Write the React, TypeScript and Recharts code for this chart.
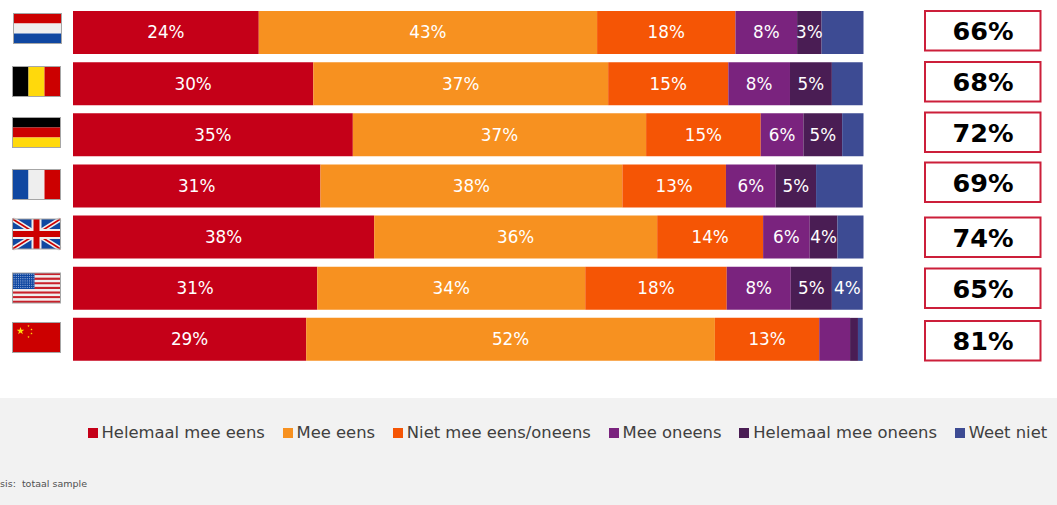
import React from 'react';
import { BarChart, Bar, XAxis, YAxis, Legend, LabelList } from 'recharts';

const countries = ['Nederland', 'België', 'Duitsland', 'Frankrijk', 'Verenigd Koninkrijk', 'Verenigde Staten', 'China'];
const flagCodes = ['nl', 'be', 'de', 'fr', 'gb', 'us', 'cn'];
const totals = ['66%', '68%', '72%', '69%', '74%', '65%', '81%'];

const helemaalMeeEens = [23.5, 30.4, 35.4, 31.3, 38.1, 30.9, 29.5];
const meeEens = [42.8, 37.3, 37.1, 38.2, 35.8, 33.9, 51.7];
const nietMeeEens = [17.5, 15.2, 14.5, 13.1, 13.4, 17.9, 13.2];
const meeOneens = [7.8, 7.8, 5.4, 6.3, 5.9, 8.1, 3.9];
const helemaalMeeOneens = [3.1, 5.3, 4.9, 5.1, 3.5, 5.2, 1.0];
const weetNiet = [5.3, 3.9, 2.7, 5.9, 3.3, 3.9, 0.6];

const labelsA = [24, 30, 35, 31, 38, 31, 29];
const labelsB = [43, 37, 37, 38, 36, 34, 52];
const labelsC = [18, 15, 15, 13, 14, 18, 13];
const labelsD = [8, 8, 6, 6, 6, 8, null];
const labelsE = [3, 5, 5, 5, 4, 5, null];
const labelsF = [null, null, null, null, null, 4, null];

const seriesNames = ['Helemaal mee eens', 'Mee eens', 'Niet mee eens/oneens', 'Mee oneens', 'Helemaal mee oneens', 'Weet niet'];
const seriesColors = ['#C50018', '#F79120', '#F55505', '#7A237E', '#4A1D54', '#3D4B93'];
const seriesValues = [helemaalMeeEens, meeEens, nietMeeEens, meeOneens, helemaalMeeOneens, weetNiet];
const seriesLabels = [labelsA, labelsB, labelsC, labelsD, labelsE, labelsF];

const rows = countries.map((country, i) => {
  const row: any = { country };
  seriesValues.forEach((vals, s) => {
    row['s' + s] = vals[i];
    row['l' + s] = seriesLabels[s][i];
  });
  return row;
});

const FONT = '"DejaVu Sans", Verdana, sans-serif';
const flagTops = [13.5, 66.5, 117.5, 169.5, 219, 273, 322.5];
const flagLefts = [13.5, 12.5, 12.5, 12.5, 12.5, 12.5, 12.5];
const boxTops = [11, 62, 112.5, 162.5, 217.5, 268.5, 321];

const RED = '#CC0000';
const BLUE = '#0F47A1';
const WHITE = '#EEEEEE';

function star(cx: number, cy: number, r: number) {
  const pts: string[] = [];
  for (let i = 0; i < 10; i++) {
    const rad = i % 2 === 0 ? r : r * 0.4;
    const a = -Math.PI / 2 + (i * Math.PI) / 5;
    pts.push(`${cx + rad * Math.cos(a)},${cy + rad * Math.sin(a)}`);
  }
  return pts.join(' ');
}

function FlagBody({ code }: { code: string }) {
  const W = 48;
  const H = 30;
  if (code === 'nl')
    return (<g><rect width={W} height={10} fill={RED} /><rect y={10} width={W} height={10} fill={WHITE} /><rect y={20} width={W} height={10} fill={BLUE} /></g>);
  if (code === 'be')
    return (<g><rect width={16} height={H} fill="#000" /><rect x={16} width={16} height={H} fill="#FFD90C" /><rect x={32} width={16} height={H} fill={RED} /></g>);
  if (code === 'de')
    return (<g><rect width={W} height={10} fill="#000" /><rect y={10} width={W} height={10} fill={RED} /><rect y={20} width={W} height={10} fill="#FFD90C" /></g>);
  if (code === 'fr')
    return (<g><rect width={16} height={H} fill={BLUE} /><rect x={16} width={16} height={H} fill={WHITE} /><rect x={32} width={16} height={H} fill={RED} /></g>);
  if (code === 'gb')
    return (
      <g>
        <rect width={W} height={H} fill={BLUE} />
        <path d={`M0 0L${W} ${H}M${W} 0L0 ${H}`} stroke={WHITE} strokeWidth={5} />
        <path d={`M0 0L${W} ${H}M${W} 0L0 ${H}`} stroke={RED} strokeWidth={1.5} />
        <rect x={19} width={10} height={H} fill={WHITE} />
        <rect y={10} width={W} height={10} fill={WHITE} />
        <rect x={21} width={6} height={H} fill={RED} />
        <rect y={12} width={W} height={6} fill={RED} />
      </g>
    );
  if (code === 'us') {
    const stripes = Array.from({ length: 13 }, (_, i) => i);
    const dots: React.ReactNode[] = [];
    for (let r = 0; r < 7; r++)
      for (let c = 0; c < 10; c++)
        dots.push(<circle key={`${r}-${c}`} cx={1.6 + c * 2.2} cy={1.3 + r * 2.2} r={0.6} fill="#9DB4DC" />);
    return (
      <g>
        {stripes.map((i) => (
          <rect key={i} y={(i * H) / 13} width={W} height={H / 13} fill={i % 2 === 0 ? '#C8202A' : WHITE} />
        ))}
        <rect width={22} height={16} fill={BLUE} />
        {dots}
      </g>
    );
  }
  return (
    <g>
      <rect width={W} height={H} fill={RED} />
      <polygon points={star(8, 8.5, 4)} fill="#FFD90C" />
      <polygon points={star(16, 3.5, 1.2)} fill="#FFD90C" />
      <polygon points={star(19, 7, 1.2)} fill="#FFD90C" />
      <polygon points={star(19, 11, 1.2)} fill="#FFD90C" />
      <polygon points={star(16, 14.5, 1.2)} fill="#FFD90C" />
    </g>
  );
}

function RowDecor(props: any) {
  const i = props.index ?? 0;
  return (
    <g>
      <g transform={`translate(${flagLefts[i]},${flagTops[i]})`}>
        <FlagBody code={flagCodes[i]} />
        <rect x={0} y={0} width={48} height={30} fill="none" stroke="#A6A6A6" strokeWidth={1} />
      </g>
      <rect x={925} y={boxTops[i]} width={115.5} height={39.5} fill="#FFFFFF" stroke="#CC1F3A" strokeWidth={2} />
      <text
        x={983}
        y={boxTops[i] + 29}
        textAnchor="middle"
        fontFamily={FONT}
        fontWeight="bold"
        fontSize={25.5}
        fill="#000000"
      >
        {totals[i]}
      </text>
    </g>
  );
}

function LegendBlock({ payload }: any) {
  return (
    <div style={{ position: 'relative', width: 1057, height: 107, background: '#F2F2F2', overflow: 'hidden', fontFamily: FONT }}>
      <div style={{ position: 'absolute', left: 87.5, top: 25, display: 'flex', whiteSpace: 'nowrap', color: '#404040', fontSize: 16.4 }}>
        {(payload || []).map((p: any) => (
          <div key={p.value} style={{ display: 'flex', alignItems: 'center', marginRight: 17.7 }}>
            <span style={{ width: 10, height: 10, background: p.color, marginRight: 4, display: 'inline-block' }} />
            <span>{p.value}</span>
          </div>
        ))}
      </div>
      <div style={{ position: 'absolute', right: 970, top: 80, whiteSpace: 'nowrap', fontSize: 9.5, color: '#505050' }}>
        Basis:{'\u00a0\u00a0'}totaal sample
      </div>
    </div>
  );
}

const fmt = (v: any) => (v == null ? '' : `${v}%`);

export default function App() {
  return (
    <div style={{ position: 'absolute', left: 0, top: 0, width: 1057, height: 505, background: '#FFFFFF', overflow: 'hidden' }}>
      <BarChart
        width={1057}
        height={505}
        data={rows}
        layout="vertical"
        margin={{ top: 7, right: 193.5, bottom: 140, left: 0 }}
        barCategoryGap={4}
      >
        <XAxis type="number" domain={[0, 100]} hide />
        <YAxis type="category" dataKey="country" width={73} axisLine={false} tickLine={false} interval={0} tick={<RowDecor />} />
        <Legend
          layout="horizontal"
          verticalAlign="middle"
          itemSorter={null}
          content={<LegendBlock />}
          wrapperStyle={{ position: 'absolute', left: 0, top: 398, width: 1057, height: 107 }}
        />
        {seriesNames.map((name, s) => (
          <Bar key={name} dataKey={'s' + s} name={name} stackId="a" fill={seriesColors[s]} isAnimationActive={false}>
            <LabelList dataKey={'l' + s} position="center" formatter={fmt} fill="#FFFFFF" fontSize={16.8} fontFamily={FONT} />
          </Bar>
        ))}
      </BarChart>
    </div>
  );
}
